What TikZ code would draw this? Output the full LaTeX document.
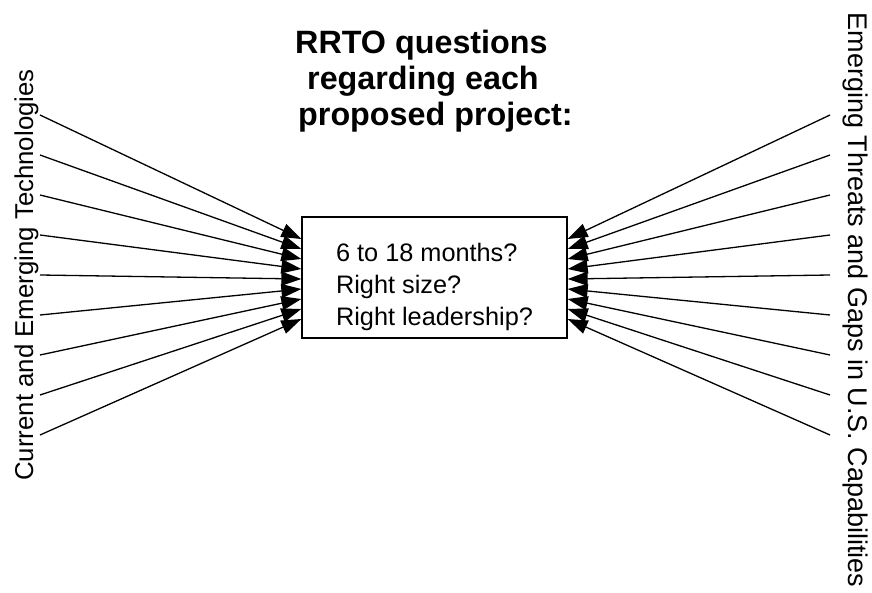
\documentclass[tikz,border=0pt]{standalone}
\usepackage{fontspec}
\setmainfont{Liberation Sans}
\usetikzlibrary{arrows.meta}
\tikzset{
  conn/.style={line width=1.3pt, -{Triangle[length=20pt,width=14pt]}},
  qbox/.style={draw, line width=1.3pt, minimum width=265pt, minimum height=121pt, inner sep=0pt},
  qtext/.style={inner sep=0pt, align=left, font=\fontsize{25.3}{32}\selectfont},
  ttl/.style={anchor=base west, inner sep=0pt, font=\fontsize{32.3}{36}\selectfont\bfseries},
  side/.style={anchor=base, inner sep=0pt}
}
\begin{document}
\begin{tikzpicture}[x=1pt,y=-1pt]
\useasboundingbox (0,0) rectangle (872,593);
\node[ttl] (title1) at (295,54) {RRTO questions};
\node[ttl] (title2) at (307,90) {regarding each};
\node[ttl] (title3) at (298,126) {proposed project:};
\node[qbox] (box) at (434.5,277.5) {};
\node[qtext] (boxtext) at (434.5,287) {6 to 18 months?\\Right size?\\Right leadership?};
\node[side, rotate=90, font=\fontsize{25.8}{30}\selectfont] (lefttext) at (33,275) {Current and Emerging Technologies};
\node[side, rotate=-90, font=\fontsize{27}{32}\selectfont] (righttext) at (848,300) {Emerging Threats and Gaps in U.S. Capabilities};
\foreach \k in {0,...,8} {
  \coordinate (L\k) at (40,115+40*\k);
  \coordinate (R\k) at (830,115+40*\k);
  \draw[conn] (L\k) -- ([yshift={(4-\k)*10pt-1.5pt}]box.west);
  \draw[conn] (R\k) -- ([yshift={(4-\k)*10pt-1.5pt}]box.east);
}
\end{tikzpicture}
\end{document}
